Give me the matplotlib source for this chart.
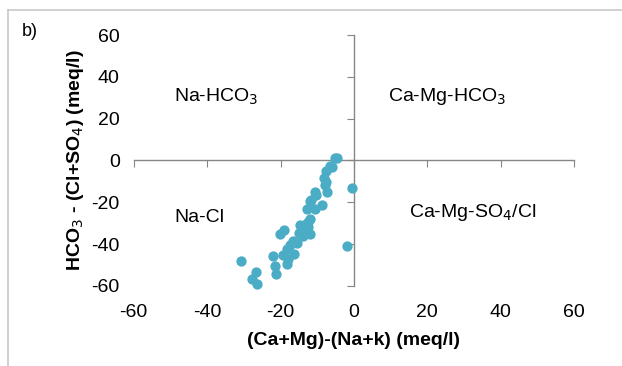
import numpy as np
import matplotlib.pyplot as plt
from matplotlib.lines import Line2D

plt.rcParams['font.family'] = ['Liberation Sans', 'DejaVu Sans']
plt.rcParams['axes.unicode_minus'] = False

# (Ca+Mg)-(Na+K) and HCO3-(Cl+SO4), meq/l
x_vals = [-5.2, -4.6, -6.6, -6.0, -7.7, -8.2, -7.7, -7.9, -7.2, -10.5, -10.2,
          -11.7, -12.1, -8.8, -12.8, -10.6, -11.9, -12.6, -14.7, -12.4, -13.3,
          -11.9, -14.3, -15.0, -19.0, -20.2, -16.5, -17.5, -15.4, -16.3, -18.2,
          -19.3, -18.1, -22.0, -21.4, -21.1, -30.9, -26.7, -27.7, -26.3, -0.65,
          -2.0, -13.0, -17.9, -13.8]
y_vals = [1.0, 1.0, -2.7, -3.3, -4.8, -8.3, -10.4, -11.5, -15.0, -15.0, -16.6,
          -19.0, -19.6, -21.5, -23.1, -23.4, -28.2, -29.3, -31.1, -31.7, -33.0,
          -35.4, -35.4, -34.6, -33.3, -35.4, -38.6, -40.6, -39.3, -44.9, -42.2,
          -45.3, -49.7, -45.8, -50.5, -54.5, -48.1, -53.2, -56.9, -59.0, -13.4,
          -41.0, -30.5, -47.3, -36.0]

ticks = [-60, -40, -20, 0, 20, 40, 60]

labels = ['Na-HCO$_3$', 'Ca-Mg-HCO$_3$', 'Na-Cl', 'Ca-Mg-SO$_4$/Cl']
label_x = [-48.9, 9.4, -48.9, 14.9]
label_y = [30.6, 30.6, -27.3, -24.9]

fig = plt.figure(figsize=(6.22, 3.66), dpi=100)
rect = [0.215, 0.219, 0.708, 0.685]

# axes with the cross through zero
ax = fig.add_axes(rect)
ax.set_xlim(-60, 60)
ax.set_ylim(-60, 60)
for s in ['top', 'right']:
    ax.spines[s].set_visible(False)
ax.spines['left'].set_position('zero')
ax.spines['bottom'].set_position('zero')
for s in ['left', 'bottom']:
    ax.spines[s].set_color('#868686')
    ax.spines[s].set_linewidth(1.0)
ax.set_xticks(ticks)
ax.set_yticks(ticks)
ax.tick_params(direction='out', length=5, color='#868686',
               labelleft=False, labelbottom=False)
ax.scatter(x_vals, y_vals, s=55, color='#4bacc6', zorder=3, linewidths=0,
           clip_on=False)

for t, lx, ly in zip(labels, label_x, label_y):
    ax.text(lx, ly, t, fontsize=14, va='center', ha='left')

# axes carrying tick labels at the edges
ax2 = fig.add_axes(rect, frameon=False)
ax2.patch.set_visible(False)
ax2.set_xlim(-60, 60)
ax2.set_ylim(-60, 60)
ax2.set_xticks(ticks)
ax2.set_yticks(ticks)
ax2.tick_params(length=0, labelsize=14, pad=13)
ax2.tick_params(axis='y', pad=10)
ax2.set_xlabel('(Ca+Mg)-(Na+k) (meq/l)', fontsize=14, fontweight='bold', labelpad=8)
ax2.set_ylabel('HCO$_3$ - (Cl+SO$_4$) (meq/l)', fontsize=14, fontweight='bold', labelpad=4)

fig.text(22 / 622, 1 - 32 / 366, 'b)', fontsize=13, va='center', ha='left')

# frame border of the original figure
fig.add_artist(Line2D([8 / 622, 1], [1 - 10 / 366, 1 - 10 / 366],
                      transform=fig.transFigure, color='#c8c8c8', lw=1.2))
fig.add_artist(Line2D([8 / 622, 8 / 622], [0, 1 - 10 / 366],
                      transform=fig.transFigure, color='#c8c8c8', lw=1.2))

fig.savefig('out.png', dpi=100)
